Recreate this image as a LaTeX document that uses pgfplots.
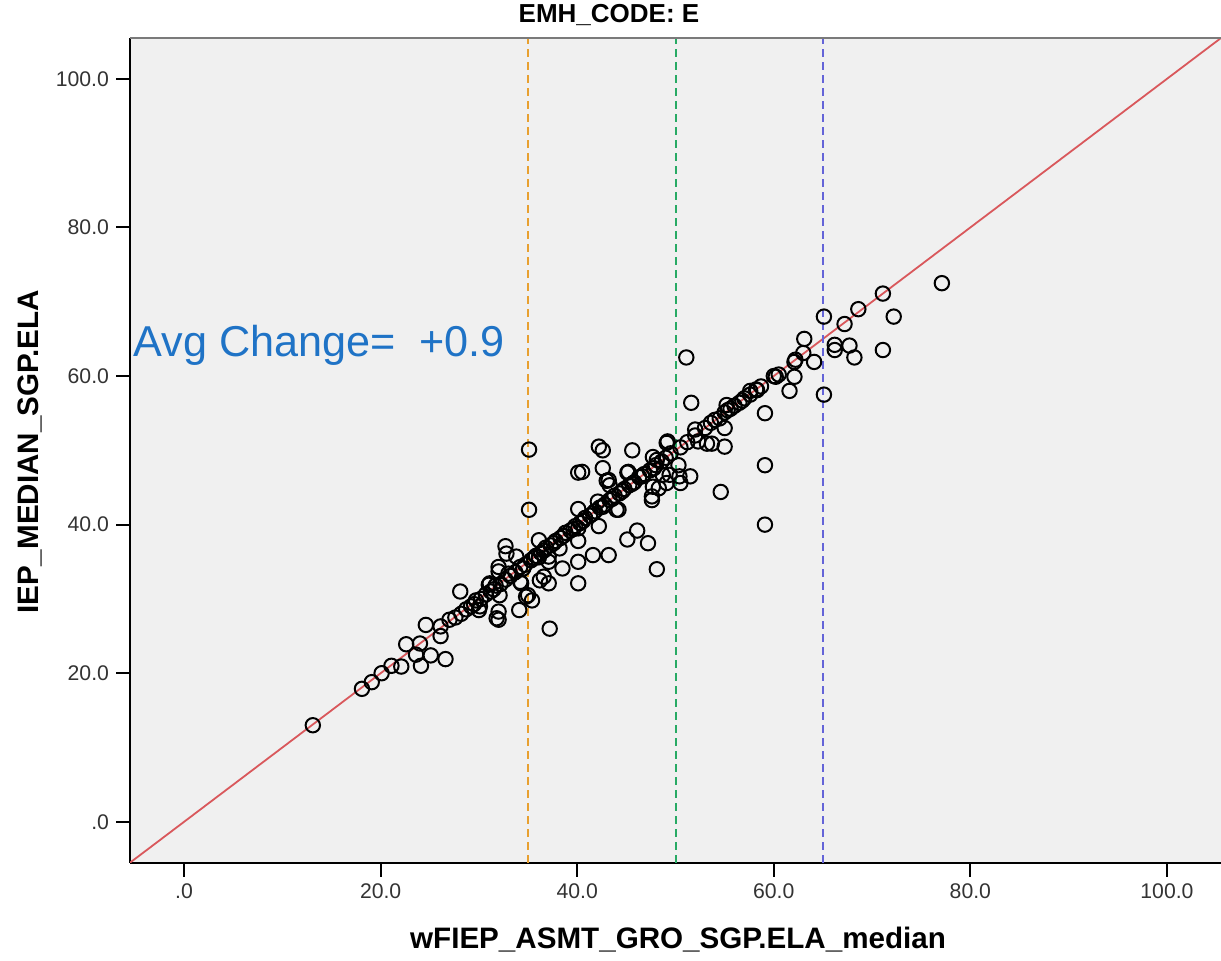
\documentclass[border=0pt]{standalone}
\usepackage{fontspec}
\setmainfont{Liberation Sans}
\usepackage{pgfplots}
\usepackage{pgfplotstable}
\pgfplotsset{compat=1.18}

\definecolor{panelbg}{HTML}{F0F0F0}
\definecolor{refred}{HTML}{D9585C}
\definecolor{lineorange}{HTML}{E8A030}
\definecolor{linegreen}{RGB}{40,170,100}
\definecolor{lineblue}{HTML}{6464D8}
\definecolor{avgblue}{HTML}{1F73C6}
\definecolor{framegray}{HTML}{7A7A7A}

% school medians: x = wFIEP growth median, y = IEP median
\pgfplotstableread{
x y
27.0 27.2
27.6 27.5
28.2 28.0
28.7 28.6
29.2 29.0
29.5 29.3
29.7 29.8
30.2 30.0
30.7 30.6
31.2 31.0
31.5 31.3
31.7 31.8
32.2 32.0
32.7 32.6
33.0 33.4
33.2 33.1
33.7 33.6
34.2 34.3
34.5 34.1
34.7 34.6
35.3 35.2
35.6 35.5
35.8 35.8
36.3 36.2
36.6 36.5
36.8 36.9
37.3 37.2
37.6 37.5
37.8 37.8
38.3 38.2
38.6 38.5
38.8 38.9
39.3 39.2
39.6 39.4
39.8 39.8
40.3 40.2
40.6 40.5
40.8 40.9
41.3 41.2
41.6 41.5
41.8 41.8
42.3 42.3
42.6 42.4
42.8 42.7
43.3 43.3
43.6 43.5
43.8 43.9
44.3 44.2
44.6 44.5
44.8 44.8
45.3 45.3
45.6 45.5
45.8 45.7
46.3 46.4
46.6 46.5
46.8 46.8
47.4 47.3
47.8 47.6
48.0 48.0
48.6 48.5
49.0 49.0
49.5 49.6
50.5 50.4
51.2 51.1
52.0 52.0
53.0 53.0
53.6 53.7
54.5 54.3
55.0 55.1
55.3 55.4
55.6 55.6
56.0 56.0
56.5 56.4
56.8 56.7
57.0 57.0
57.6 57.5
58.2 58.2
58.7 58.6
60.0 60.0
60.5 60.2
62.2 62.2
63.0 63.1
67.2 67.0
68.6 69.0
71.1 71.1
13.1 13.0
18.1 17.9
19.1 18.8
20.1 20.0
21.1 21.0
22.1 20.9
22.6 23.9
24.0 24.0
23.6 22.5
25.1 22.4
26.6 21.9
24.1 21.0
24.6 26.5
26.1 25.0
26.1 26.3
28.1 31.0
30.1 29.0
31.0 31.9
32.0 33.7
31.8 27.4
30.0 28.5
32.7 37.1
32.8 36.1
33.8 35.7
32.0 34.3
31.1 32.1
32.1 30.5
32.0 28.3
32.0 27.2
34.1 28.5
34.3 32.1
34.8 30.3
35.0 30.5
35.4 29.8
34.2 32.3
36.6 33.0
36.2 32.5
37.1 32.1
37.1 35.0
37.2 26.0
38.2 36.8
38.5 34.1
40.1 35.0
40.1 32.1
41.6 35.9
43.2 35.9
40.1 37.8
40.1 39.5
42.2 39.8
45.1 38.0
46.1 39.2
47.2 37.5
48.1 34.0
35.1 50.1
35.1 42.0
40.1 47.0
40.1 42.1
42.2 50.5
42.6 50.0
45.6 50.0
49.1 51.0
42.6 47.6
43.0 45.9
43.3 45.3
45.1 47.0
47.7 49.1
48.1 48.7
47.7 45.1
48.3 44.9
47.6 43.3
44.2 42.0
42.1 43.1
36.1 37.9
37.1 35.7
36.1 35.6
49.2 51.2
50.3 48.0
50.4 46.5
51.5 46.5
49.4 46.7
48.7 46.7
49.1 45.6
50.5 45.6
52.0 52.8
52.3 51.2
53.2 50.9
53.7 50.9
55.0 50.5
55.0 53.0
54.0 54.1
55.2 56.1
51.1 62.5
51.6 56.4
54.6 44.4
59.1 48.0
59.1 40.0
59.1 55.0
60.2 59.9
62.1 59.9
61.6 58.0
62.1 61.9
64.1 61.9
63.1 65.0
65.1 68.0
65.1 57.5
66.2 64.2
66.2 63.5
67.7 64.1
68.2 62.5
72.2 68.0
71.1 63.5
77.1 72.5
58.3 58.1
57.6 58.0
40.5 47.1
45.2 47.1
43.2 46.0
47.6 43.8
44.0 42.0
}\schooldata

\begin{document}
\begin{tikzpicture}
\path[use as bounding box] (0,0) rectangle (610.5pt,480.5pt);
\begin{axis}[
  at={(65pt,49.15pt)}, anchor=south west,
  scale only axis, width=545.5pt, height=412.35pt,
  xmin=-5.5, xmax=105.5, ymin=-5.5, ymax=105.5,
  axis background/.style={fill=panelbg},
  axis x line*=bottom, axis y line*=left,
  axis line style={line width=1pt, black},
  tick align=outside, major tick length=7pt,
  every tick/.style={black, line width=1pt},
  xtick={0,20,40,60,80,100}, ytick={0,20,40,60,80,100},
  xticklabels={.0,20.0,40.0,60.0,80.0,100.0},
  yticklabels={.0,20.0,40.0,60.0,80.0,100.0},
  tick label style={font=\fontsize{10.6}{12}\selectfont, text=black!80},
  clip=true,
]
\addplot[only marks, mark=o, mark size=3.6pt, black,
  mark options={line width=1pt}] table[x=x, y=y] {\schooldata};
\addplot[color=refred, line width=0.9pt] coordinates {(-5.5,-5.5) (105.5,105.5)};
\addplot[color=lineorange, line width=0.9pt, dash pattern=on 4pt off 2.5pt] coordinates {(35,-5.5) (35,105.5)};
\addplot[color=linegreen, line width=0.9pt, dash pattern=on 4pt off 2.5pt] coordinates {(50.05,-5.5) (50.05,105.5)};
\addplot[color=lineblue, line width=0.9pt, dash pattern=on 4pt off 2.5pt] coordinates {(65,-5.5) (65,105.5)};
\draw[framegray, line width=1.5pt] (rel axis cs:0,1) -- (rel axis cs:1,1);
\end{axis}
\node[font=\bfseries\fontsize{13}{15}\selectfont] at (304.5pt,473pt) {EMH\_CODE: E};
\node[rotate=90, font=\bfseries\fontsize{14.8}{17}\selectfont] at (15pt,254.5pt) {IEP\_MEDIAN\_SGP.ELA};
\node[font=\bfseries\fontsize{14.8}{17}\selectfont] at (339pt,10.5pt) {wFIEP\_ASMT\_GRO\_SGP.ELA\_median};
\node[anchor=west, inner sep=0pt, text=avgblue, font=\fontsize{21.6}{25}\selectfont] at (66.5pt,308pt) {Avg Change=\hspace{0.55em}+0.9};
\end{tikzpicture}
\end{document}
